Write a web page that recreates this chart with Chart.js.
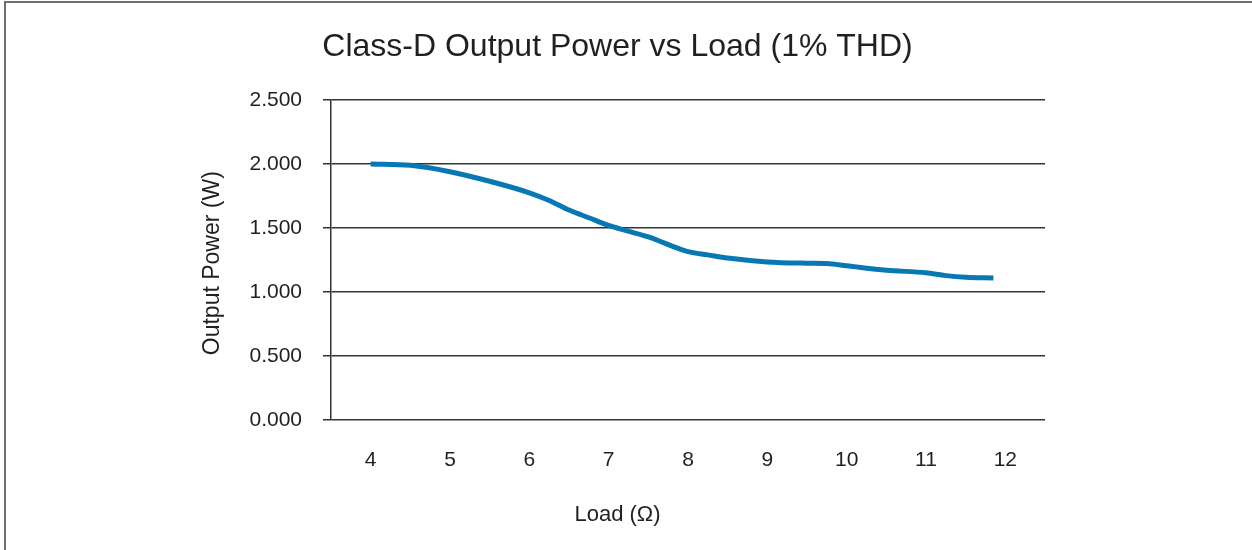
<!DOCTYPE html>
<html>
<head>
<meta charset="utf-8">
<script src="https://cdn.jsdelivr.net/npm/chart.js@4/dist/chart.umd.min.js"></script>
<style>
  html, body { margin: 0; padding: 0; background: #fff; }
  #wrap { width: 1252px; height: 550px; }
</style>
</head>
<body>
<div id="wrap"><canvas id="powerChart" width="1252" height="550"></canvas></div>
<script>
// Load in ohms, output power in W
const loadOhms = [4.0, 4.5, 5.0, 5.5, 6.0, 6.25, 6.5, 6.75, 7.0, 7.5, 8.0, 8.25, 8.5, 9.0, 9.5, 9.75, 10.0, 10.5, 11.0, 11.25, 11.5, 11.85];
const outputPower = [2.000, 1.990, 1.940, 1.865, 1.775, 1.715, 1.640, 1.580, 1.520, 1.430, 1.315, 1.290, 1.265, 1.235, 1.225, 1.222, 1.205, 1.170, 1.150, 1.128, 1.115, 1.110];
const xTicks = [4, 5, 6, 7, 8, 9, 10, 11, 12];
const yTicks = [0, 0.5, 1.0, 1.5, 2.0, 2.5];

const FONT = "'Liberation Sans', Arial, sans-serif";
const INK = '#231f20';

// grey frame on top and left edge
const framePlugin = {
    id: 'frame',
    beforeDraw(chart) {
        const c = chart.ctx;
        c.save();
        c.strokeStyle = '#6d6d6d';
        c.lineWidth = 2;
        c.beginPath();
        c.moveTo(5, 550);
        c.lineTo(5, 2);
        c.lineTo(1252, 2);
        c.stroke();
        c.restore();
    }
};

const points = loadOhms.map((x, i) => ({ x: x, y: outputPower[i] }));

new Chart(document.getElementById('powerChart'), {
    type: 'line',
    data: {
        datasets: [{
            label: 'Output Power',
            data: points,
            borderColor: '#0878b4',
            borderWidth: 5,
            pointRadius: 0,
            cubicInterpolationMode: 'monotone',
            fill: false
        }]
    },
    options: {
        responsive: false,
        animation: false,
        layout: { padding: { left: 190, right: 207, top: 0, bottom: 0 } },
        plugins: {
            legend: { display: false },
            tooltip: { enabled: false },
            title: {
                display: true,
                text: 'Class-D Output Power vs Load (1% THD)',
                color: INK,
                font: { family: FONT, size: 32, weight: 'normal' },
                padding: { top: 28, bottom: 33.6 }
            },
            // x axis title, placed as a bottom subtitle so it centres like the original
            subtitle: {
                display: true,
                position: 'bottom',
                text: 'Load (Ω)',
                color: INK,
                font: { family: FONT, size: 22, weight: 'normal' },
                padding: { top: 1.6, bottom: 22 }
            }
        },
        scales: {
            x: {
                type: 'linear',
                min: 3.5,
                max: 12.5,
                afterBuildTicks: (s) => { s.ticks = xTicks.map(v => ({ value: v })); },
                afterFit: (s) => { s.height = 80; },
                grid: { display: false },
                border: { display: false },
                ticks: {
                    color: INK,
                    padding: 20,
                    font: { family: FONT, size: 21 },
                    maxRotation: 0
                }
            },
            y: {
                min: 0,
                max: 2.5,
                afterBuildTicks: (s) => { s.ticks = yTicks.map(v => ({ value: v })); },
                afterFit: (s) => { s.width = 141; },
                grid: { color: '#333', lineWidth: 1.5, tickLength: 8 },
                border: { display: true, color: '#333', width: 1.5 },
                ticks: {
                    color: INK,
                    padding: 21,
                    font: { family: FONT, size: 21 },
                    callback: (v) => v.toFixed(3)
                },
                title: {
                    display: true,
                    text: 'Output Power (W) ',
                    color: INK,
                    font: { family: FONT, size: 23 },
                    padding: { top: 9, bottom: 0 }
                }
            }
        }
    },
    plugins: [framePlugin]
});
</script>
</body>
</html>
